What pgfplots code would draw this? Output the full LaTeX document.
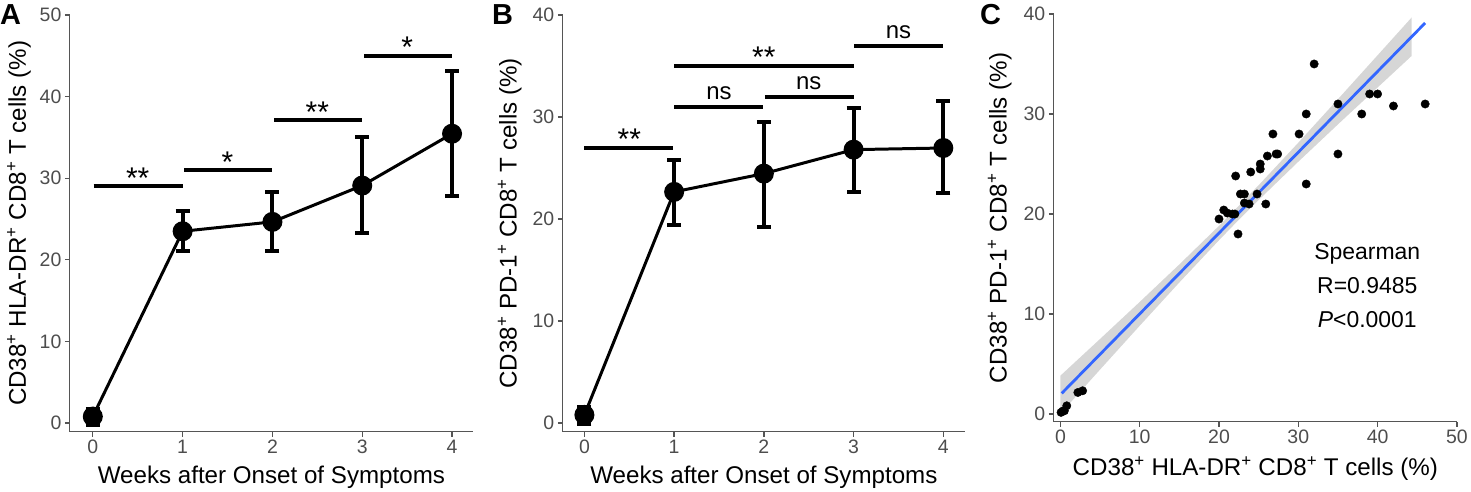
\documentclass[border=0pt]{standalone}
\usepackage{fontspec}
\setmainfont{Liberation Sans}
\usepackage{pgfplots}
\usepackage{pgfplotstable}
\pgfplotsset{compat=1.18}
\definecolor{axgray}{HTML}{555555}
\definecolor{tickgray}{HTML}{4D4D4D}
\definecolor{smoothblue}{HTML}{3366FF}
\definecolor{bandgray}{HTML}{999999}

\pgfplotstableread{
x y ep em
0 0.8 0.9 1.0
1 23.5 2.5 2.4
2 24.65 3.65 3.55
3 29.1 5.9 5.8
4 35.45 7.65 7.65
}\dataA

\pgfplotstableread{
x y ep em
0 0.8 0.8 0.9
1 22.66 3.1 3.2
2 24.45 5.05 5.2
3 26.8 4.1 4.15
4 26.96 4.65 4.45
}\dataB

\pgfplotstableread{
x y
32 35.0
39 32.0
40 32.0
35 31.0
42 30.8
46 31.0
31 30.0
38 30.0
26.8 28.0
30.1 28.0
35 26.0
27.2 26.0
27.4 26.0
26.1 25.8
25.2 25.0
25.2 24.5
24.0 24.2
22.1 23.8
31.0 23.0
22.7 22.0
23.2 22.0
24.8 22.0
23.2 21.1
23.8 21.0
25.9 21.0
20.6 20.4
21.05 20.1
21.7 20.0
22.0 20.0
20.0 19.5
22.4 18.0
2.2 2.16
2.8 2.33
0.8 0.83
0.5 0.33
0.3 0.3
0.08 0.17
}\dataC

\pgfplotsset{
  ggp/.style={
    scale only axis,
    anchor=south west,
    axis x line*=bottom, axis y line*=left,
    axis line style={draw=axgray, line width=1.3bp},
    tick align=outside,
    major tick length=5bp,
    tick style={draw=axgray, line width=1.3bp},
    tick label style={font=\fontsize{19.5bp}{19.5bp}\selectfont, text=tickgray},
    /pgf/number format/assume math mode=true,
    label style={font=\fontsize{24.2bp}{24.2bp}\selectfont, text=black},
    clip=false,
  },
  linep/.style={black, line width=3bp, mark=*, mark size=8.5bp,
    mark options={solid, fill=black},
    error bars/.cd, y dir=both, y explicit,
    error bar style={line width=4bp, black},
    error mark options={rotate=90, mark size=7bp, line width=4bp, black}},
  sig/.style={black, line width=4bp, forget plot},
}
\newcommand{\stars}{\fontsize{30bp}{30bp}\selectfont}
\newcommand{\nsf}{\fontsize{24bp}{24bp}\selectfont}
\newcommand{\sfl}{\fontsize{23bp}{23bp}\selectfont}

\begin{document}
\begin{tikzpicture}
\path (0,0) rectangle (1471bp,489bp);
% panel letters
\node[anchor=base west, inner sep=0pt, font=\fontsize{29bp}{29bp}\selectfont\bfseries] at (0bp,464bp) {A};
\node[anchor=base west, inner sep=0pt, font=\fontsize{29bp}{29bp}\selectfont\bfseries] at (493bp,464bp) {B};
\node[anchor=base west, inner sep=0pt, font=\fontsize{29bp}{29bp}\selectfont\bfseries] at (982bp,464bp) {C};

% ---------------- Panel A
\begin{axis}[ggp, at={(70bp,56.3bp)}, width=404bp, height=417.7bp,
  xmin=-0.2556, xmax=4.233, ymin=-1.064, ymax=50,
  xtick={0,1,2,3,4}, ytick={0,10,20,30,40,50},
  xlabel={Weeks after Onset of Symptoms},
  ylabel={CD38\textsuperscript{+} HLA-DR\textsuperscript{+} CD8\textsuperscript{+} T cells (\%)},
  xlabel style={at={(axis description cs:0.5,-0.1245)}, anchor=base},
  ylabel style={at={(axis description cs:-0.126,0.5)}, anchor=center, rotate=0},
]
\addplot[linep] table[x=x, y=y, y error plus=ep, y error minus=em] {\dataA};
\addplot[sig] coordinates {(0.01,29) (1.0,29)};
\addplot[sig] coordinates {(1.02,31) (2.0,31)};
\addplot[sig] coordinates {(2.02,37.1) (3.0,37.1)};
\addplot[sig] coordinates {(3.02,45) (4.0,45)};
\node[anchor=base, font=\stars, yshift=-2bp] at (axis cs:0.5,29) {**};
\node[anchor=base, font=\stars, yshift=-2bp] at (axis cs:1.5,31) {*};
\node[anchor=base, font=\stars, yshift=-2bp] at (axis cs:2.5,37.1) {**};
\node[anchor=base, font=\stars, yshift=-2bp] at (axis cs:3.5,45) {*};
\end{axis}

% ---------------- Panel B
\begin{axis}[ggp, at={(564bp,56.3bp)}, width=403bp, height=417.7bp,
  xmin=-0.241, xmax=4.241, ymin=-0.851, ymax=40,
  xtick={0,1,2,3,4}, ytick={0,10,20,30,40},
  xlabel={Weeks after Onset of Symptoms},
  ylabel={CD38\textsuperscript{+} PD-1\textsuperscript{+} CD8\textsuperscript{+} T cells (\%)},
  xlabel style={at={(axis description cs:0.5,-0.1245)}, anchor=base},
  ylabel style={at={(axis description cs:-0.132,0.5)}, anchor=center, rotate=0},
]
\addplot[linep] table[x=x, y=y, y error plus=ep, y error minus=em] {\dataB};
\addplot[sig] coordinates {(0.0,27) (0.99,27)};
\addplot[sig] coordinates {(1.0,31) (1.99,31)};
\addplot[sig] coordinates {(2.01,32) (3.0,32)};
\addplot[sig] coordinates {(1.0,35) (3.0,35)};
\addplot[sig] coordinates {(3.01,37) (4.0,37)};
\node[anchor=base, font=\stars, yshift=-2bp] at (axis cs:0.5,27) {**};
\node[anchor=base, font=\nsf, yshift=7bp] at (axis cs:1.5,31) {ns};
\node[anchor=base, font=\nsf, yshift=7bp] at (axis cs:2.5,32) {ns};
\node[anchor=base, font=\stars, yshift=-2bp] at (axis cs:2,35) {**};
\node[anchor=base, font=\nsf, yshift=7bp] at (axis cs:3.5,37) {ns};
\end{axis}

% ---------------- Panel C
\begin{axis}[ggp, at={(1056bp,66.3bp)}, width=404bp, height=408.7bp,
  xmin=-0.843, xmax=50, ymin=-0.77, ymax=40,
  xtick={0,10,20,30,40,50}, ytick={0,10,20,30,40},
  xlabel={CD38\textsuperscript{+} HLA-DR\textsuperscript{+} CD8\textsuperscript{+} T cells (\%)},
  ylabel={CD38\textsuperscript{+} PD-1\textsuperscript{+} CD8\textsuperscript{+} T cells (\%)},
  xlabel style={at={(axis description cs:0.5,-0.132)}, anchor=base},
  ylabel style={at={(axis description cs:-0.134,0.5)}, anchor=center, rotate=0},
]
\addplot[only marks, mark=*, mark size=4.2bp, black, mark options={fill=black}] table[x=x, y=y] {\dataC};
\addplot[draw=none, fill=bandgray, fill opacity=0.4, forget plot] coordinates {
(0,3.84) (5,7.51) (10,11.21) (15,14.96) (20,18.82) (22,20.42) (25,22.88) (30,27.13) (35,31.48) (40,35.87) (44.3,39.65)
(44.3,35.81) (40,32.65) (35,28.96) (30,25.23) (25,21.40) (22,19.02) (20,17.38) (15,13.16) (10,8.83) (5,4.45) (0,0.04)
} -- cycle;
\addplot[smoothblue, line width=2.8bp, forget plot] coordinates {(0.16,2.07) (46,39.1)};
\node[anchor=base, font=\sfl] at (axis cs:38.7,15.47) {Spearman};
\node[anchor=base, font=\sfl] at (axis cs:38.7,12.08) {R=0.9485};
\node[anchor=base, font=\sfl] at (axis cs:38.7,8.65) {\textit{P}<0.0001};
\end{axis}
\end{tikzpicture}
\end{document}
